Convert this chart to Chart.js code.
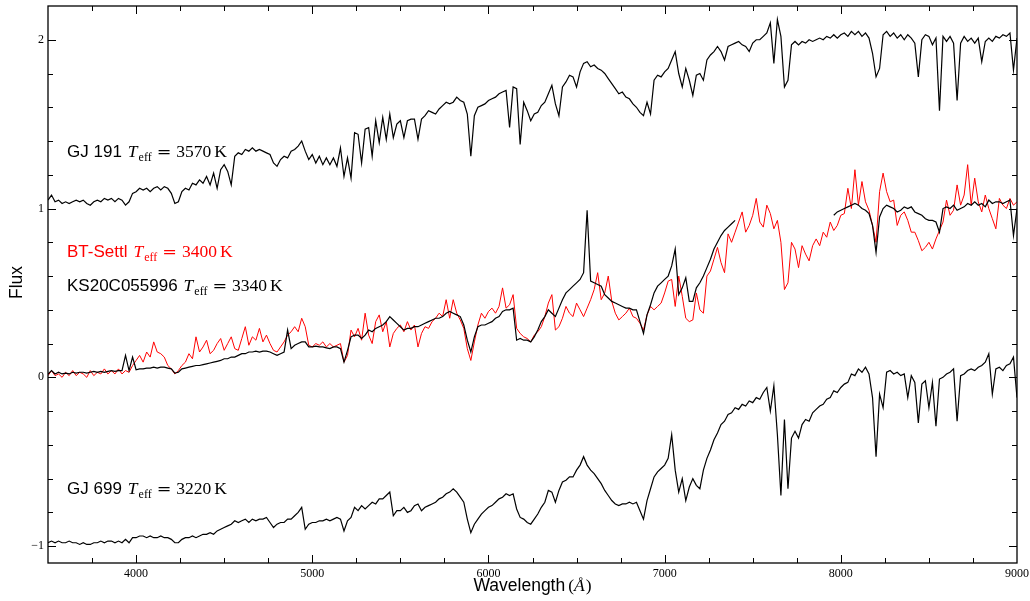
<!DOCTYPE html>
<html>
<head>
<meta charset="utf-8">
<script src="https://cdn.jsdelivr.net/npm/chart.js@4.4.1/dist/chart.umd.min.js"></script>
<style>
  html, body { margin: 0; padding: 0; background: #fff; }
  #wrap { width: 1030px; height: 601px; }
</style>
</head>
<body>
<div id="wrap"><canvas id="spectra" width="1030" height="601"></canvas></div>
<script>
// Axis ticks
const xMajorTicks = [4000, 5000, 6000, 7000, 8000, 9000];
const yMajorTicks = [-1, 0, 1, 2];

// Wavelength grid (A): 3500, 3520, ... 9000
const waveStart = 3500;
const waveStep = 20;

// Flux, one value per grid step, 10 per row (row start in comment)
var gj191 = [
  1.05,1.08,1.04,1.05,1.03,1.04,1.03,1.04,1.05,1.04, // 3500
  1.05,1.03,1.02,1.04,1.05,1.04,1.06,1.05,1.06,1.04, // 3700
  1.06,1.05,1.02,1.04,1.09,1.10,1.12,1.11,1.12,1.10, // 3900
  1.12,1.13,1.11,1.13,1.12,1.09,1.03,1.04,1.10,1.12, // 4100
  1.11,1.15,1.14,1.17,1.15,1.19,1.14,1.21,1.12,1.23, // 4300
  1.26,1.22,1.14,1.31,1.33,1.32,1.35,1.34,1.36,1.34, // 4500
  1.35,1.34,1.33,1.32,1.27,1.25,1.29,1.31,1.30,1.34, // 4700
  1.35,1.37,1.40,1.34,1.29,1.32,1.27,1.31,1.26,1.30, // 4900
  1.26,1.30,1.25,1.36,1.19,1.30,1.18,1.45,1.44,1.27, // 5100
  1.47,1.48,1.31,1.52,1.39,1.54,1.41,1.56,1.42,1.50, // 5300
  1.52,1.42,1.52,1.53,1.53,1.41,1.53,1.55,1.58,1.57, // 5500
  1.56,1.59,1.61,1.63,1.62,1.63,1.66,1.64,1.63,1.56, // 5700
  1.31,1.55,1.60,1.61,1.62,1.64,1.65,1.66,1.68,1.69, // 5900
  1.70,1.48,1.72,1.71,1.38,1.63,1.58,1.52,1.56,1.57, // 6100
  1.61,1.63,1.68,1.73,1.62,1.55,1.72,1.75,1.79,1.78, // 6300
  1.72,1.81,1.86,1.87,1.84,1.85,1.83,1.82,1.80,1.77, // 6500
  1.74,1.71,1.68,1.69,1.66,1.65,1.62,1.60,1.57,1.55, // 6700
  1.63,1.56,1.76,1.79,1.78,1.81,1.83,1.88,1.93,1.80, // 6900
  1.72,1.83,1.76,1.67,1.79,1.80,1.76,1.88,1.91,1.93, // 7100
  1.96,1.93,1.88,1.96,1.97,1.98,1.99,1.97,1.96,1.93, // 7300
  1.98,2.00,2.00,2.02,2.04,2.10,1.86,2.12,2.02,1.72, // 7500
  1.76,1.97,1.99,1.97,1.99,1.98,2.00,1.99,2.00,2.01, // 7700
  2.00,2.02,2.01,2.03,2.01,2.03,2.04,2.02,2.05,2.03, // 7900
  2.05,2.02,2.04,2.01,1.92,1.78,1.83,2.03,2.05,2.02, // 8100
  2.04,2.01,2.03,2.00,2.03,2.01,1.98,1.78,2.00,2.03, // 8300
  2.02,1.97,2.01,1.58,2.02,1.99,2.02,1.98,1.64,1.98, // 8500
  2.02,1.99,2.01,1.98,2.01,1.87,1.99,2.01,1.99,2.02, // 8700
  2.01,2.03,2.02,2.04,1.82,2.01                      // 8900
];

var btSettl = [
  0.01,0.04,0.01,0.02,0.00,0.03,0.01,0.04,0.01,0.03, // 3500
  0.02,0.00,0.04,0.01,0.03,0.02,0.05,0.02,0.04,0.02, // 3700
  0.05,0.02,0.04,0.03,0.07,0.10,0.13,0.09,0.15,0.12, // 3900
  0.21,0.15,0.14,0.12,0.07,0.05,0.02,0.04,0.07,0.09, // 4100
  0.14,0.11,0.24,0.15,0.18,0.22,0.14,0.16,0.20,0.23, // 4300
  0.16,0.20,0.24,0.17,0.16,0.23,0.30,0.19,0.24,0.22, // 4500
  0.29,0.21,0.25,0.20,0.16,0.15,0.18,0.21,0.25,0.27, // 4700
  0.30,0.27,0.35,0.30,0.19,0.18,0.20,0.19,0.21,0.18, // 4900
  0.20,0.18,0.19,0.20,0.09,0.13,0.28,0.24,0.29,0.22, // 5100
  0.38,0.25,0.20,0.33,0.37,0.27,0.33,0.18,0.26,0.29, // 5300
  0.31,0.27,0.33,0.28,0.31,0.18,0.26,0.30,0.29,0.33, // 5500
  0.35,0.38,0.36,0.46,0.35,0.46,0.38,0.34,0.29,0.17, // 5700
  0.10,0.21,0.31,0.38,0.35,0.39,0.41,0.38,0.42,0.53, // 5900
  0.41,0.43,0.49,0.29,0.26,0.24,0.23,0.21,0.25,0.27, // 6100
  0.30,0.36,0.44,0.49,0.28,0.30,0.35,0.42,0.38,0.36, // 6300
  0.44,0.40,0.36,0.41,0.46,0.52,0.62,0.46,0.50,0.60, // 6500
  0.45,0.38,0.34,0.36,0.38,0.41,0.36,0.35,0.32,0.28, // 6700
  0.37,0.42,0.40,0.42,0.44,0.50,0.57,0.58,0.42,0.60, // 6900
  0.48,0.35,0.33,0.34,0.50,0.40,0.38,0.60,0.63,0.70, // 7100
  0.77,0.68,0.62,0.85,0.80,0.86,0.92,0.98,0.86,0.90, // 7300
  0.96,1.06,0.92,0.89,1.02,0.97,0.88,0.93,0.80,0.52, // 7500
  0.56,0.80,0.76,0.65,0.78,0.73,0.69,0.78,0.82,0.78, // 7700
  0.86,0.83,0.92,0.87,0.90,0.96,0.97,1.12,1.00,1.23, // 7900
  1.02,1.16,1.04,0.99,0.90,0.80,1.10,1.21,1.10,1.04, // 8100
  1.05,0.90,0.96,0.98,0.93,0.86,0.86,0.81,0.75,0.77, // 8300
  0.80,0.76,0.82,0.87,0.92,1.05,0.96,0.99,1.14,1.02, // 8500
  1.08,1.26,1.02,1.18,1.04,0.98,1.08,1.00,0.94,0.88, // 8700
  1.06,1.02,1.00,1.06,1.02,1.04                      // 8900
];

// null = no data (gap in the observed spectrum)
var ks20c = [
  0.02,0.04,0.02,0.03,0.02,0.025,0.02,0.03,0.025,0.03, // 3500
  0.03,0.025,0.03,0.035,0.03,0.035,0.03,0.035,0.04,0.035, // 3700
  0.04,0.04,0.13,0.04,0.12,0.045,0.05,0.05,0.055,0.055, // 3900
  0.06,0.055,0.06,0.06,0.055,0.05,0.025,0.03,0.05,0.055, // 4100
  0.06,0.065,0.07,0.07,0.075,0.08,0.085,0.09,0.095,0.10, // 4300
  0.11,0.11,0.12,0.12,0.13,0.14,0.14,0.15,0.15,0.155, // 4500
  0.15,0.155,0.155,0.15,0.14,0.13,0.14,0.15,0.28,0.17, // 4700
  0.19,0.20,0.21,0.21,0.18,0.18,0.185,0.18,0.18,0.175, // 4900
  0.17,0.18,0.18,0.17,0.09,0.16,0.24,0.25,0.25,0.23, // 5100
  0.25,0.28,0.27,0.29,0.30,0.31,0.33,0.36,0.34,0.32, // 5300
  0.30,0.28,0.29,0.29,0.30,0.30,0.31,0.32,0.33,0.34, // 5500
  0.35,0.35,0.36,0.38,0.39,0.38,0.37,0.36,0.31,0.22, // 5700
  0.15,0.24,0.30,0.31,0.31,0.32,0.33,0.35,0.36,0.39, // 5900
  0.40,0.40,0.41,0.22,0.23,0.22,0.22,0.21,0.24,0.28, // 6100
  0.33,0.36,0.40,0.38,0.36,0.41,0.46,0.50,0.52,0.54, // 6300
  0.56,0.58,0.62,0.99,0.57,0.56,0.55,0.54,0.49,0.47, // 6500
  0.45,0.44,0.43,0.42,0.41,0.41,0.40,0.40,0.33,0.26, // 6700
  0.37,0.43,0.50,0.54,0.56,0.58,0.60,0.66,0.76,0.49, // 6900
  0.53,0.59,0.45,0.45,0.53,0.56,0.60,0.65,0.70,0.76, // 7100
  0.80,0.84,0.87,0.89,0.91,0.93,null,null,null,null, // 7300
  null,null,null,null,null,null,null,null,null,null, // 7500
  null,null,null,null,null,null,null,null,null,null, // 7700
  null,null,null,0.96,0.98,0.99,1.00,1.01,1.02,1.03, // 7900
  1.02,1.00,0.99,0.97,0.90,0.74,0.95,1.00,1.02,1.01, // 8100
  1.00,0.98,0.99,1.01,1.00,1.01,0.98,0.97,0.96,0.94, // 8300
  0.93,0.93,0.92,0.86,1.00,1.01,1.00,1.02,0.99,1.00, // 8500
  1.01,1.03,1.02,1.04,1.02,1.03,1.01,1.05,1.03,1.04, // 8700
  1.04,1.03,1.04,1.05,0.84,1.00                      // 8900
];

var gj699 = [
  -0.98,-0.97,-0.98,-0.97,-0.98,-0.98,-0.97,-0.98,-0.98,-0.99, // 3500
  -0.98,-0.99,-0.99,-0.98,-0.98,-0.97,-0.98,-0.97,-0.97,-0.98, // 3700
  -0.97,-0.98,-0.96,-0.98,-0.95,-0.95,-0.94,-0.94,-0.95,-0.94, // 3900
  -0.95,-0.95,-0.94,-0.95,-0.95,-0.96,-0.98,-0.98,-0.96,-0.95, // 4100
  -0.95,-0.94,-0.95,-0.94,-0.93,-0.93,-0.92,-0.93,-0.91,-0.90, // 4300
  -0.89,-0.88,-0.87,-0.85,-0.86,-0.85,-0.84,-0.86,-0.84,-0.85, // 4500
  -0.84,-0.84,-0.83,-0.86,-0.89,-0.87,-0.86,-0.86,-0.84,-0.84, // 4700
  -0.82,-0.80,-0.77,-0.90,-0.87,-0.86,-0.86,-0.85,-0.85,-0.84, // 4900
  -0.85,-0.84,-0.83,-0.84,-0.91,-0.85,-0.83,-0.77,-0.79,-0.76, // 5100
  -0.78,-0.76,-0.74,-0.75,-0.72,-0.72,-0.70,-0.68,-0.82,-0.79, // 5300
  -0.79,-0.77,-0.80,-0.79,-0.76,-0.75,-0.79,-0.77,-0.76,-0.75, // 5500
  -0.74,-0.72,-0.71,-0.69,-0.68,-0.66,-0.68,-0.71,-0.74,-0.84, // 5700
  -0.92,-0.87,-0.84,-0.81,-0.79,-0.77,-0.76,-0.74,-0.72,-0.71, // 5900
  -0.69,-0.70,-0.69,-0.78,-0.83,-0.84,-0.86,-0.87,-0.84,-0.81, // 6100
  -0.77,-0.74,-0.67,-0.68,-0.74,-0.67,-0.62,-0.61,-0.59,-0.59, // 6300
  -0.55,-0.52,-0.47,-0.52,-0.55,-0.57,-0.60,-0.63,-0.67,-0.70, // 6500
  -0.73,-0.75,-0.76,-0.75,-0.75,-0.74,-0.75,-0.74,-0.79,-0.84, // 6700
  -0.73,-0.66,-0.59,-0.56,-0.54,-0.52,-0.48,-0.34,-0.55,-0.68, // 6900
  -0.60,-0.73,-0.65,-0.60,-0.64,-0.66,-0.55,-0.48,-0.43,-0.37, // 7100
  -0.33,-0.28,-0.26,-0.22,-0.21,-0.18,-0.19,-0.16,-0.17,-0.14, // 7300
  -0.15,-0.12,-0.13,-0.09,-0.06,-0.20,-0.05,-0.34,-0.70,-0.25, // 7500
  -0.66,-0.36,-0.32,-0.36,-0.28,-0.25,-0.26,-0.21,-0.19,-0.17, // 7700
  -0.16,-0.13,-0.12,-0.08,-0.09,-0.06,-0.04,-0.03,0.02,0.01, // 7900
  0.05,0.03,0.06,0.02,-0.12,-0.47,-0.10,-0.18,0.03,0.04, // 8100
  0.02,0.03,0.01,0.02,-0.12,0.01,-0.03,-0.27,-0.04,-0.02, // 8300
  -0.18,-0.03,-0.29,-0.01,0.00,0.02,0.03,0.05,-0.26,0.01, // 8500
  0.02,0.04,0.05,0.04,0.06,0.07,0.09,0.14,-0.10,0.05, // 8700
  0.06,0.04,0.07,0.08,0.12,-0.12                      // 8900
];

// Labels next to each spectrum: name, temperature, colour, anchor in data units
var tags = [
  { name: 'GJ 191', temp: '3570', color: '#000', x: 3608, y: 1.308 },
  { name: 'BT-Settl', temp: '3400', color: '#ff0000', x: 3608, y: 0.711 },
  { name: 'KS20C055996', temp: '3340', color: '#000', x: 3608, y: 0.51 },
  { name: 'GJ 699', temp: '3220', color: '#000', x: 3608, y: -0.694 }
];

function toXY(flux) {
  return flux.map((f, i) => ({ x: waveStart + i * waveStep, y: f }));
}

function drawTag(ctx, x, y, t) {
  ctx.save();
  ctx.fillStyle = t.color;
  ctx.textAlign = 'left';
  ctx.textBaseline = 'alphabetic';
  ctx.font = '17px "Liberation Sans", Arial, sans-serif';
  ctx.fillText(t.name, x, y);
  x += ctx.measureText(t.name).width + 6;
  ctx.font = 'italic 17.5px "Liberation Serif", serif';
  ctx.fillText('T', x, y);
  x += ctx.measureText('T').width + 1;
  ctx.font = '12px "Liberation Serif", serif';
  ctx.fillText('eff', x, y + 4);
  x += ctx.measureText('eff').width + 5;
  ctx.font = '17.5px "DejaVu Serif", serif';
  ctx.fillText('=', x, y);
  x += ctx.measureText('=').width + 5;
  ctx.font = '17.5px "Liberation Serif", serif';
  ctx.fillText(t.temp, x, y);
  x += ctx.measureText(t.temp).width + 3;
  ctx.fillText('K', x, y);
  ctx.restore();
}

// inward ticks on all four sides, frame, text labels and axis titles
const framePlugin = {
  id: 'framePlugin',
  afterDatasetsDraw(chart) {
    const { ctx, chartArea: a, scales: { x, y } } = chart;
    ctx.save();
    ctx.strokeStyle = '#000';
    ctx.lineWidth = 1;
    ctx.beginPath();
    for (let v = 3750; v < 9000; v += 250) {
      const px = Math.round(x.getPixelForValue(v)) + 0.5;
      const len = v % 1000 === 0 ? 8 : 5;
      ctx.moveTo(px, a.bottom); ctx.lineTo(px, a.bottom - len);
      ctx.moveTo(px, a.top); ctx.lineTo(px, a.top + len);
    }
    for (let i = -5; i <= 10; i++) {
      const py = Math.round(y.getPixelForValue(i * 0.2)) + 0.5;
      const len = i % 5 === 0 ? 8 : 5;
      ctx.moveTo(a.left, py); ctx.lineTo(a.left + len, py);
      ctx.moveTo(a.right, py); ctx.lineTo(a.right - len, py);
    }
    ctx.stroke();
    ctx.lineWidth = 1.3;
    ctx.strokeRect(a.left, a.top, a.right - a.left, a.bottom - a.top);

    tags.forEach(t => drawTag(ctx, x.getPixelForValue(t.x), y.getPixelForValue(t.y), t));

    // y title
    ctx.fillStyle = '#000';
    ctx.save();
    ctx.translate(21.5, (a.top + a.bottom) / 2 - 2);
    ctx.rotate(-Math.PI / 2);
    ctx.textAlign = 'center';
    ctx.textBaseline = 'alphabetic';
    ctx.font = '17.5px "Liberation Sans", Arial, sans-serif';
    ctx.fillText('Flux', 0, 0);
    ctx.restore();

    // x title: Wavelength (Å)
    ctx.textAlign = 'left';
    ctx.textBaseline = 'alphabetic';
    const sans = '17.5px "Liberation Sans", Arial, sans-serif';
    const serif = '17.5px "Liberation Serif", serif';
    const serifIt = 'italic 17.5px "Liberation Serif", serif';
    ctx.font = sans; const w1 = ctx.measureText('Wavelength').width + 3;
    ctx.font = serif; const w2 = ctx.measureText('(').width;
    ctx.font = serifIt; const w3 = ctx.measureText('\u00c5').width + 1;
    ctx.font = serif; const w4 = ctx.measureText(')').width;
    let tx = (a.left + a.right) / 2 - (w1 + w2 + w3 + w4) / 2;
    const ty = 591;
    ctx.font = sans; ctx.fillText('Wavelength', tx, ty); tx += w1;
    ctx.font = serif; ctx.fillText('(', tx, ty); tx += w2;
    ctx.font = serifIt; ctx.fillText('\u00c5', tx, ty); tx += w3;
    ctx.font = serif; ctx.fillText(')', tx, ty);
    ctx.restore();
  }
};

const tickFont = { family: '"Liberation Serif", serif', size: 12 };

function noEdgePadding(axis) {
  axis.paddingTop = 0;
  axis.paddingBottom = 0;
  axis.paddingLeft = 0;
  axis.paddingRight = 0;
}

var spectraChart = new Chart(document.getElementById('spectra').getContext('2d'), {
  type: 'line',
  data: {
    datasets: [
      { label: 'GJ 191', data: toXY(gj191), borderColor: '#000', borderWidth: 1.2, order: 0 },
      { label: 'KS20C055996', data: toXY(ks20c), borderColor: '#000', borderWidth: 1.2, order: 1 },
      { label: 'BT-Settl', data: toXY(btSettl), borderColor: '#ff0000', borderWidth: 1, order: 2 },
      { label: 'GJ 699', data: toXY(gj699), borderColor: '#000', borderWidth: 1.2, order: 3 }
    ]
  },
  options: {
    responsive: false,
    animation: false,
    devicePixelRatio: 1,
    events: [],
    spanGaps: false,
    elements: {
      point: { radius: 0 },
      line: { tension: 0, fill: false }
    },
    layout: { padding: { top: 6, right: 13, left: 0, bottom: 0 } },
    scales: {
      x: {
        type: 'linear',
        min: 3500,
        max: 9000,
        grid: { display: false, drawTicks: false },
        border: { display: false },
        afterBuildTicks: (axis) => { axis.ticks = xMajorTicks.map(v => ({ value: v })); },
        afterFit: (axis) => { axis.height = 38; noEdgePadding(axis); },
        ticks: {
          font: tickFont,
          color: '#000',
          padding: 4,
          maxRotation: 0,
          autoSkip: false,
          callback: (v) => String(v)
        }
      },
      y: {
        type: 'linear',
        min: -1.1,
        max: 2.2,
        grid: { display: false, drawTicks: false },
        border: { display: false },
        afterBuildTicks: (axis) => { axis.ticks = yMajorTicks.map(v => ({ value: v })); },
        afterFit: (axis) => { axis.width = 48; noEdgePadding(axis); },
        ticks: {
          font: tickFont,
          color: '#000',
          padding: 4,
          callback: (v) => v < 0 ? '\u2212' + Math.abs(v) : String(v)
        }
      }
    },
    plugins: {
      legend: { display: false },
      tooltip: { enabled: false },
      title: { display: false }
    }
  },
  plugins: [framePlugin]
});
</script>
</body>
</html>
